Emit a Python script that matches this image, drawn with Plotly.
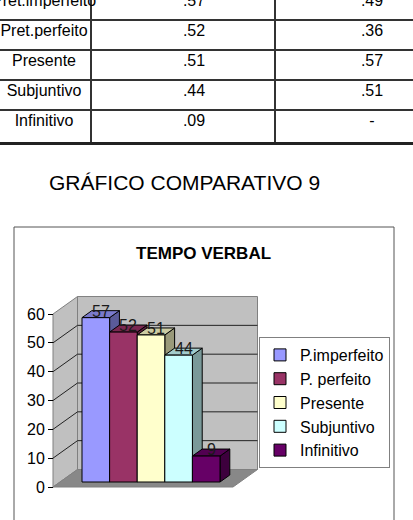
import plotly.graph_objects as go

# ---------------- data ----------------
table_labels = ["Pret.imperfeito", "Pret.perfeito", "Presente", "Subjuntivo", "Infinitivo"]
table_col1 = [".57", ".52", ".51", ".44", ".09"]
table_col2 = [".49", ".36", ".57", ".51", "-"]

categories = ["P.imperfeito", "P. perfeito", "Presente", "Subjuntivo", "Infinitivo"]
values = [57, 52, 51, 44, 9]
colors = ["#9999FF", "#993366", "#FFFFCC", "#CCFFFF", "#660066"]
y_ticks = [0, 10, 20, 30, 40, 50, 60]

page_title = "GRÁFICO COMPARATIVO 9"
chart_title = "TEMPO VERBAL"

# ---------------- layout constants ----------------
W, H = 413, 520
FONT = "Liberation Sans, Arial, sans-serif"

PX_X = 27.6      # px per bar unit
X0PX = 88.8      # px of x = 0
PX_Y = 2.883     # px per value unit
Y0PX = 487.0     # px of value 0 (front plane)
DX = 24.5 / PX_X # full depth offset in x units
DY = 17.5 / PX_Y # full depth offset in y units
XL = (53 - X0PX) / PX_X
XR = (233 - X0PX) / PX_X
F1, F2 = 0.286, 0.686
YTOP = max(y_ticks)

Y_DOM = [0.0, 0.5]
x_range = [-X0PX / PX_X, (W - X0PX) / PX_X]
y_range = [(Y0PX - H * (1 - Y_DOM[0])) / PX_Y, (Y0PX - H * (1 - Y_DOM[1])) / PX_Y]


def shade(hexc, k):
    h = hexc.lstrip("#")
    r, g, b = int(h[0:2], 16), int(h[2:4], 16), int(h[4:6], 16)
    return "rgb(%d,%d,%d)" % (r * k, g * k, b * k)


fig = go.Figure()

# ---------------- table (own axes) ----------------
rows = list(range(len(table_labels)))
col_x = [44, 194, 372]
for cx, col in zip(col_x, [table_labels, table_col1, table_col2]):
    fig.add_trace(go.Scatter(
        x=[cx] * len(col), y=rows, text=col, mode="text",
        textposition="middle center",
        textfont=dict(size=16, color="black", family=FONT),
        xaxis="x2", yaxis="y2", showlegend=False, hoverinfo="skip"))

# ---------------- walls and floor ----------------
wall_line = dict(color="#808080", width=1)
fig.add_trace(go.Scatter(
    x=[XL, XL, XL + DX, XL + DX, XL], y=[0, YTOP, YTOP + DY, DY, 0],
    fill="toself", fillcolor="#C0C0C0", line=wall_line, mode="lines",
    showlegend=False, hoverinfo="skip"))
fig.add_trace(go.Scatter(
    x=[XL + DX, XR + DX, XR + DX, XL + DX, XL + DX], y=[DY, DY, YTOP + DY, YTOP + DY, DY],
    fill="toself", fillcolor="#C0C0C0", line=wall_line, mode="lines",
    showlegend=False, hoverinfo="skip"))
fig.add_trace(go.Scatter(
    x=[XL, XR, XR + DX, XL + DX, XL], y=[0, 0, DY, DY, 0],
    fill="toself", fillcolor="#888888", line=wall_line, mode="lines",
    showlegend=False, hoverinfo="skip"))

gx, gy = [], []
for v in y_ticks[1:-1]:
    gx += [XL, XL + DX, XR + DX, None]
    gy += [v, v + DY, v + DY, None]
fig.add_trace(go.Scatter(x=gx, y=gy, mode="lines", line=dict(color="#222222", width=1),
                         showlegend=False, hoverinfo="skip"))

# ---------------- bar tops & sides ----------------
dd = (F2 - F1) * DX
dz = (F2 - F1) * DY
for i, (v, c) in enumerate(zip(values, colors)):
    x0f = i - 0.5 + F1 * DX
    x1f = x0f + 1
    yb = F1 * DY
    yt = v + F1 * DY
    fig.add_trace(go.Scatter(
        x=[x1f, x1f + dd, x1f + dd, x1f, x1f], y=[yb, yb + dz, yt + dz, yt, yb],
        fill="toself", fillcolor=shade(c, 0.6), mode="lines",
        line=dict(color="black", width=1), showlegend=False, hoverinfo="skip"))
    fig.add_trace(go.Scatter(
        x=[x0f, x1f, x1f + dd, x0f + dd, x0f], y=[yt, yt, yt + dz, yt + dz, yt],
        fill="toself", fillcolor=shade(c, 0.8), mode="lines",
        line=dict(color="black", width=1), showlegend=False, hoverinfo="skip"))

# ---------------- bar fronts (overlay axes, drawn on top) ----------------
for i, (name, v, c) in enumerate(zip(categories, values, colors)):
    fig.add_trace(go.Bar(
        x=[i + F1 * DX], y=[v], base=[F1 * DY], width=1, name=name,
        marker=dict(color=c, line=dict(color="black", width=1)),
        xaxis="x3", yaxis="y3", hoverinfo="skip"))

# value labels
annotations = []
for i, v in enumerate(values):
    annotations.append(dict(
        x=i + F1 * DX + dd / 2, y=v + F1 * DY, xref="x", yref="y",
        text=str(v), showarrow=False, yanchor="bottom", yshift=-4,
        font=dict(size=16, color="#1a1a1a", family=FONT)))

annotations.append(dict(
    x=184 / W, y=1 - 182 / H, xref="paper", yref="paper", text=page_title,
    showarrow=False, xanchor="center", yanchor="middle",
    font=dict(size=21, color="black", family=FONT)))
annotations.append(dict(
    x=203 / W, y=1 - 253 / H, xref="paper", yref="paper", text="<b>%s</b>" % chart_title,
    showarrow=False, xanchor="center", yanchor="middle",
    font=dict(size=17, color="black", family=FONT)))

# table y mapping
T_TOP, T_BOT = 0.0, 142.0
r_of = lambda px: (px - 1.7) / 30.0

fig.update_layout(
    width=W, height=H,
    margin=dict(l=0, r=0, t=0, b=0),
    paper_bgcolor="white", plot_bgcolor="rgba(0,0,0,0)",
    barmode="overlay",
    font=dict(family=FONT, color="black"),
    showlegend=True,
    legend=dict(x=390 / W, xanchor="right", y=1 - 337 / H, yanchor="top",
                bgcolor="white", bordercolor="#808080", borderwidth=1,
                font=dict(size=16, color="black", family=FONT), traceorder="normal"),
    xaxis=dict(domain=[0, 1], range=x_range, visible=False, fixedrange=True),
    yaxis=dict(domain=Y_DOM, range=y_range, anchor="free", position=53 / W,
               tickvals=y_ticks, ticks="outside", ticklen=5, tickcolor="black",
               tickfont=dict(size=16, color="black", family=FONT),
               showgrid=False, zeroline=False, showline=False),
    xaxis3=dict(overlaying="x", range=x_range, visible=False),
    yaxis3=dict(overlaying="y", range=y_range, visible=False),
    xaxis2=dict(domain=[0, 1], range=[0, W], anchor="y2",
                tickvals=[91, 275], showticklabels=False, ticks="",
                showgrid=True, gridcolor="#333333", gridwidth=1.5,
                zeroline=False, showline=True, linecolor="#222222", linewidth=3),
    yaxis2=dict(domain=[1 - T_BOT / H, 1 - T_TOP / H], range=[r_of(T_BOT), r_of(T_TOP)],
                anchor="x2", tickvals=[r_of(20), r_of(50), r_of(80), r_of(110)],
                showticklabels=False, ticks="", showgrid=True, gridcolor="#333333",
                gridwidth=1.5, zeroline=False, showline=False),
    annotations=annotations,
    shapes=[dict(type="rect", xref="paper", yref="paper",
                 x0=14 / W, x1=394 / W, y0=-0.05, y1=1 - 227 / H,
                 line=dict(color="#555555", width=1), fillcolor="rgba(0,0,0,0)",
                 layer="below")],
)

fig.write_html("out.html")
